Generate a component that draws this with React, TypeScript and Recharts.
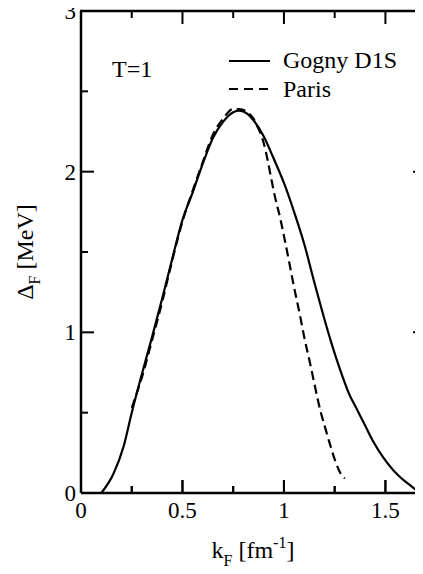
import React from 'react';
import { LineChart, Line, XAxis, YAxis } from 'recharts';

// Gogny D1S gap (solid line)
const gognyK = [
  0.1, 0.16, 0.21, 0.25, 0.3, 0.35, 0.4, 0.45, 0.5, 0.55, 0.6, 0.65, 0.7, 0.75, 0.78, 0.82, 0.85, 0.9,
  0.95, 1.0, 1.05, 1.1, 1.15, 1.2, 1.23, 1.26, 1.29, 1.32, 1.36, 1.4, 1.44, 1.49, 1.54, 1.58, 1.62, 1.65,
  1.68,
];
const gognyDelta = [
  0, 0.12, 0.29, 0.5, 0.74, 0.97, 1.21, 1.46, 1.7, 1.87, 2.05, 2.21, 2.31, 2.37, 2.38, 2.36, 2.32, 2.22,
  2.08, 1.93, 1.75, 1.55, 1.31, 1.08, 0.95, 0.83, 0.72, 0.62, 0.52, 0.42, 0.32, 0.22, 0.14, 0.09, 0.05, 0.02,
  0,
];

// Paris gap (dashed line)
const parisK = [
  0.25, 0.3, 0.35, 0.4, 0.45, 0.5, 0.55, 0.6, 0.65, 0.7, 0.75, 0.78, 0.82, 0.85, 0.87, 0.9, 0.92, 0.94,
  0.96, 0.98, 1.0, 1.03, 1.05, 1.08, 1.1, 1.13, 1.15, 1.18, 1.2, 1.23, 1.25, 1.28, 1.3,
];
const parisDelta = [
  0.53, 0.72, 0.95, 1.19, 1.45, 1.69, 1.88, 2.06, 2.23, 2.33, 2.39, 2.39, 2.37, 2.33, 2.28, 2.18, 2.07, 1.94,
  1.82, 1.72, 1.6, 1.41, 1.28, 1.1, 0.97, 0.8, 0.68, 0.51, 0.42, 0.29, 0.21, 0.12, 0.09,
];

const xDomain = [0, 1.7];
const xMajorTicks = [0, 0.5, 1, 1.5];
const xTicks = [0, 0.25, 0.5, 0.75, 1, 1.25, 1.5];
const yMajorTicks = [0, 1, 2, 3];
const yTicks = [0, 0.5, 1, 1.5, 2, 2.5, 3];

const gognyData = gognyK.map((k, i) => ({ k, delta: gognyDelta[i] }));
const parisData = parisK.map((k, i) => ({ k, delta: parisDelta[i] }));

// chart layout
const CHART_W = 440;
const CHART_H = 574;
const TOP = 11;
const BOTTOM = 81;
const LEFT = 81;
const RIGHT = 14;
const PLOT_W = CHART_W - LEFT - RIGHT;
const PLOT_H = CHART_H - TOP - BOTTOM;
const xPos = (k: number) => LEFT + ((k - xDomain[0]) / (xDomain[1] - xDomain[0])) * PLOT_W;

const SERIF = '"Liberation Serif", "DejaVu Serif", serif';
const textStyle = { fontFamily: SERIF };
const frame = { stroke: '#000', strokeWidth: 2.5 };

function BottomTick(props: any) {
  const { x, y, payload } = props;
  const major = xMajorTicks.includes(payload.value);
  return (
    <g>
      <line x1={x} y1={y} x2={x} y2={y - (major ? 13 : 7)} stroke="#000" strokeWidth={2} />
      {major && (
        <text x={x} y={y + 25} textAnchor="middle" fontSize={23} style={textStyle} fill="#000">
          {payload.value}
        </text>
      )}
    </g>
  );
}

function LeftTick(props: any) {
  const { x, y, payload } = props;
  const major = yMajorTicks.includes(payload.value);
  return (
    <g>
      <line x1={x} y1={y} x2={x + (major ? 13 : 7)} y2={y} stroke="#000" strokeWidth={2} />
      {major && (
        <text x={x - 5} y={y + 8} textAnchor="end" fontSize={23} style={textStyle} fill="#000">
          {payload.value}
        </text>
      )}
    </g>
  );
}

function RightTick(props: any) {
  const { x, y, payload } = props;
  const major = yMajorTicks.includes(payload.value);
  return <line x1={x} y1={y} x2={x - (major ? 13 : 7)} y2={y} stroke="#000" strokeWidth={2} />;
}

export default function App() {
  return (
    <div style={{ position: 'relative', width: 423, height: 574, overflow: 'hidden', margin: -8, background: '#fff' }}>
      <LineChart width={CHART_W} height={CHART_H} margin={{ top: TOP, right: 0, bottom: 0, left: 0 }}>
        <XAxis
          xAxisId="bottom"
          type="number"
          dataKey="k"
          domain={xDomain}
          allowDataOverflow
          ticks={xTicks}
          interval={0}
          tickSize={0}
          tickMargin={0}
          tickLine={false}
          tick={BottomTick}
          height={BOTTOM}
          axisLine={frame}
        />
        <YAxis
          yAxisId="left"
          type="number"
          domain={[0, 3]}
          allowDataOverflow
          ticks={yTicks}
          interval={0}
          tickSize={0}
          tickMargin={0}
          tickLine={false}
          tick={LeftTick}
          width={LEFT}
          axisLine={frame}
        />
        <YAxis
          yAxisId="right"
          orientation="right"
          type="number"
          domain={[0, 3]}
          allowDataOverflow
          ticks={yTicks}
          interval={0}
          tickSize={0}
          tickMargin={0}
          tickLine={false}
          tick={RightTick}
          width={RIGHT}
          axisLine={frame}
        />
        <Line
          xAxisId="bottom"
          yAxisId="left"
          data={gognyData}
          dataKey="delta"
          type="monotone"
          stroke="#000"
          strokeWidth={2.2}
          dot={false}
          isAnimationActive={false}
        />
        <Line
          xAxisId="bottom"
          yAxisId="left"
          data={parisData}
          dataKey="delta"
          type="monotone"
          stroke="#000"
          strokeWidth={2.2}
          strokeDasharray="9 5"
          dot={false}
          isAnimationActive={false}
        />
      </LineChart>

      {/* frame top with its ticks, bottom ticks, labels, annotation and legend drawn on top */}
      <svg
        width={423}
        height={574}
        style={{ position: 'absolute', left: 0, top: 0, pointerEvents: 'none', fontFamily: SERIF }}
        fill="#000"
      >
        <line x1={80} y1={TOP} x2={423} y2={TOP} stroke="#000" strokeWidth={2.5} />
        {xTicks.map((t) => {
          const len = xMajorTicks.includes(t) ? 13 : 7;
          const x = xPos(t);
          return (
            <g key={t}>
              <line x1={x} y1={TOP} x2={x} y2={TOP + len} stroke="#000" strokeWidth={2} />
              <line x1={x} y1={TOP + PLOT_H} x2={x} y2={TOP + PLOT_H - len} stroke="#000" strokeWidth={2} />
            </g>
          );
        })}

        <text x={112} y={77} fontSize={24} style={textStyle}>T=1</text>

        <line x1={229} y1={61} x2={270} y2={61} stroke="#000" strokeWidth={2.2} />
        <text x={283} y={68} fontSize={24} style={textStyle}>Gogny D1S</text>
        <line x1={229} y1={89} x2={270} y2={89} stroke="#000" strokeWidth={2.2} strokeDasharray="9 6" />
        <text x={283} y={97} fontSize={24} style={textStyle}>Paris</text>

        <text transform="translate(33,252) rotate(-90)" textAnchor="middle" fontSize={24} style={textStyle}>
          Δ<tspan fontSize={16} dy={7}>F</tspan>
          <tspan dy={-7}> [MeV]</tspan>
        </text>

        <text x={253} y={558} textAnchor="middle" fontSize={24} style={textStyle}>
          k<tspan fontSize={16} dy={8}>F</tspan>
          <tspan dy={-8}> [fm</tspan>
          <tspan fontSize={16} dy={-10}>-1</tspan>
          <tspan dy={10}>]</tspan>
        </text>
      </svg>
    </div>
  );
}
